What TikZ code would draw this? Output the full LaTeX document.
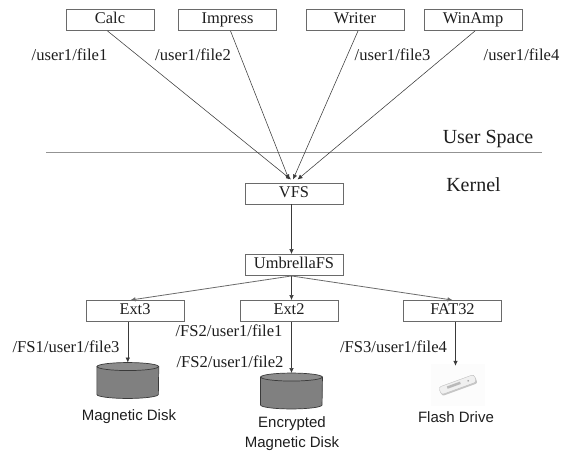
\documentclass[tikz,border=0pt]{standalone}
\usepackage{fontspec}
\setmainfont{Liberation Serif}
\setsansfont{Liberation Sans}
\usetikzlibrary{arrows.meta}
\definecolor{edgecol}{HTML}{3A3A3A}
\definecolor{boxcol}{HTML}{6A6A6A}
\definecolor{diskfill}{HTML}{808080}
\definecolor{disktop}{HTML}{8C8C8C}
\definecolor{inkcol}{HTML}{1E1E1E}
\tikzset{
  fsbox/.style={draw=boxcol,line width=0.9pt,fill=white,minimum width=#1,minimum height=21pt,inner sep=0pt,text height=11pt,text depth=3.5pt,text=inkcol,font=\fontsize{16.4}{18}\selectfont},
  fsbox/.default=98pt,
  link/.style={draw=edgecol,line width=0.55pt,-{Latex[length=5pt,width=4.5pt]}},
  softlink/.style={draw=boxcol,line width=0.8pt,-{Latex[length=5pt,width=4.5pt]}},
  pathlabel/.style={text=inkcol,inner sep=0pt,font=\fontsize{16.6}{18}\selectfont},
  spacelabel/.style={text=inkcol,inner sep=0pt,font=\fontsize{20}{22}\selectfont},
  devlabel/.style={text=inkcol,inner sep=0pt,align=center,font=\sffamily\fontsize{15}{19.5}\selectfont},
  diskframe/.style={minimum width=61.5pt,minimum height=35.5pt,inner sep=0pt},
  diskskin/.style={draw=edgecol,line width=0.7pt,fill=#1},
}
\newcommand{\diskshape}[1]{%
  \draw[diskskin=diskfill] ([yshift=-4pt]#1.north west) -- ([yshift=4pt]#1.south west)
    arc[start angle=180,end angle=360,x radius=30.75pt,y radius=4pt]
    -- ([yshift=-4pt]#1.north east) -- cycle;
  \draw[diskskin=disktop] ([yshift=-4pt]#1.north) ellipse[x radius=30.75pt,y radius=4pt];
}
\begin{document}
\begin{tikzpicture}[x=1pt,y=-1pt]
\useasboundingbox (0,0) rectangle (561,452);
% application boxes
\node[fsbox=88pt] (calc) at (110,20) {Calc};
\node[fsbox] (impress) at (227.5,20) {Impress};
\node[fsbox] (writer) at (355,20) {Writer};
\node[fsbox] (winamp) at (473,20) {WinAmp};
% boundary
\coordinate (sepL) at (46,152.5);
\coordinate (sepR) at (542,152.5);
\draw[draw=gray!85,line width=1.1pt] (sepL) -- (sepR);
\node[spacelabel] (userspace) at (488,139.5) {User Space};
\node[spacelabel] (kernel) at (473.5,185) {Kernel};
% fs boxes
\node[fsbox] (vfs) at (294,193.5) {VFS};
\node[fsbox] (umbrella) at (294,265) {UmbrellaFS};
\node[fsbox] (ext3) at (135,311) {Ext3};
\node[fsbox] (ext2) at (289,311) {Ext2};
\node[fsbox] (fat) at (452.5,311) {FAT32};
% path labels
\node[pathlabel] (p1) at (69.5,55) {/user1/file1};
\node[pathlabel] (p2) at (193,55) {/user1/file2};
\node[pathlabel] (p3) at (392.5,55) {/user1/file3};
\node[pathlabel] (p4) at (521.5,55) {/user1/file4};
\node[pathlabel] (q1) at (66,347) {/FS1/user1/file3};
\node[pathlabel] (q2) at (229,331) {/FS2/user1/file1};
\node[pathlabel] (q3) at (230,362) {/FS2/user1/file2};
\node[pathlabel] (q4) at (393.5,347) {/FS3/user1/file4};
% app arrows
\draw[link] ([xshift=-2.5pt]calc.south) -- ([xshift=-3pt,yshift=3pt]vfs.north);
\draw[link] ([xshift=3pt]impress.south) -- ([xshift=-5pt,yshift=3pt]vfs.north);
\draw[link] ([xshift=3pt]writer.south) -- ([xshift=-1pt,yshift=3pt]vfs.north);
\draw[link] ([xshift=2pt]winamp.south) -- ([xshift=3.5pt,yshift=3pt]vfs.north);
% kernel arrows
\draw[link] ([xshift=-2.5pt]vfs.south) -- ([xshift=-2.5pt]umbrella.north);
\draw[softlink] ([xshift=-2.5pt]umbrella.south) -- ([xshift=-4.5pt]ext3.north);
\draw[link] ([xshift=-2.5pt]umbrella.south) -- ([xshift=2.5pt]ext2.north);
\draw[softlink] ([xshift=-2.5pt]umbrella.south) -- (fat.north);
% disks
\node[diskframe] (disk1) at (127.8,380.5) {};
\node[diskframe] (disk2) at (291.5,391) {};
\diskshape{disk1}
\diskshape{disk2}
\draw[link] ([xshift=-7.2pt]ext3.south) -- (disk1.north);
\draw[link] ([xshift=2.5pt]ext2.south) -- (disk2.north);
% flash drive
\node[draw=none,fill=black!1,minimum width=54pt,minimum height=42pt,inner sep=0pt] (flash) at (458,385) {};
\draw[link] ([xshift=3pt]fat.south) -- ([xshift=-2.5pt,yshift=-2pt]flash.north);
\begin{scope}[shift={(458,385)},rotate=20]
  \fill[gray!45,rounded corners=2pt] (-18.5,-2.5) rectangle (19,5);
  \fill[gray!12,rounded corners=2.5pt,draw=gray!50,line width=0.4pt] (-19,-4.5) rectangle (18.5,3.5);
  \fill[gray!55] (-11,-2.5) rectangle (3,0);
  \fill[gray!70] (11,-0.5) circle (1pt);
\end{scope}
\node[devlabel] (l1) at (129,417) {Magnetic Disk};
\node[devlabel] (l2) at (292,433.5) {Encrypted\\Magnetic Disk};
\node[devlabel] (l3) at (456,417) {Flash Drive};
\end{tikzpicture}
\end{document}
